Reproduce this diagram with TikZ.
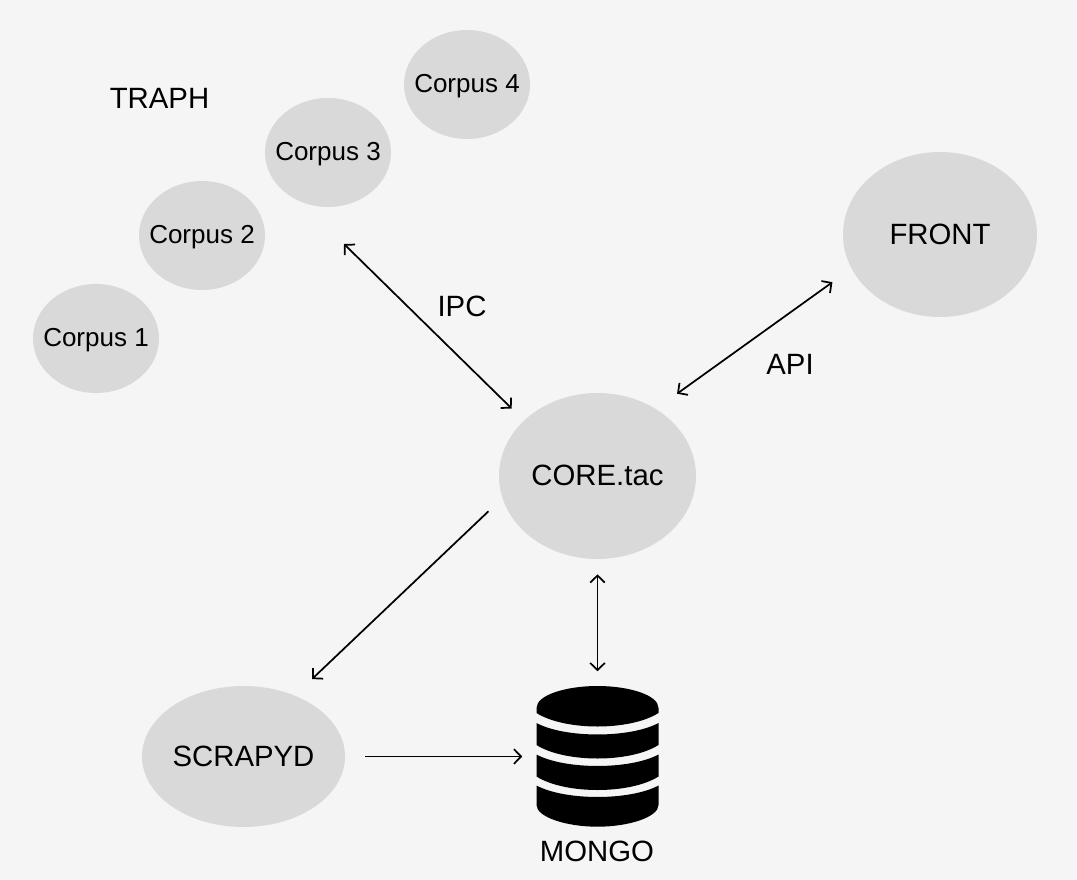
\documentclass[tikz,border=0pt]{standalone}
\usepackage{xcolor}
\usepackage{fontspec}
\setmainfont{Liberation Sans}
\usetikzlibrary{arrows.meta,shapes.geometric}
\definecolor{page}{HTML}{F5F5F5}
\definecolor{blob}{HTML}{D9D9D9}
\newcommand{\bigfont}{\fontsize{22}{26}\selectfont}
\newcommand{\smallfont}{\fontsize{19.5}{23}\selectfont}
\tikzset{
  service/.style={ellipse,fill=blob,inner sep=0pt,outer sep=0pt},
  corpus/.style={service,minimum width=94.5pt,minimum height=81.75pt},
  tag/.style={inner sep=0pt,font=\bigfont},
  small tag/.style={inner sep=0pt,font=\smallfont,text depth=0pt},
  link/.style={line width=1.3pt,{Straight Barb[length=5.3pt,width=11pt]}-{Straight Barb[length=5.3pt,width=11pt]}},
  oneway/.style={line width=1.3pt,-{Straight Barb[length=5.3pt,width=11pt]}},
}
\begin{document}
\begin{tikzpicture}[x=0.75pt,y=-0.75pt]
  \fill[page] (0,0) rectangle (1077,880);
  \useasboundingbox (0,0) rectangle (1077,880);

  \node[corpus,label={[small tag,yshift=0.5pt]center:Corpus 1}] (corpus1) at (96,338.5) {};
  \node[corpus,label={[small tag,yshift=0.5pt]center:Corpus 2}] (corpus2) at (202,235.5) {};
  \node[corpus,label={[small tag,yshift=0.5pt]center:Corpus 3}] (corpus3) at (328,152.5) {};
  \node[corpus,label={[small tag,yshift=0.5pt]center:Corpus 4}] (corpus4) at (467,84.5) {};
  \node[tag] (traph) at (159.5,98.5) {TRAPH};
  \node[service,minimum width=145.5pt,minimum height=123.75pt,label={[tag]center:FRONT}] (front) at (940,234.5) {};
  \node[service,minimum width=147.75pt,minimum height=124.5pt,label={[tag,yshift=0.5pt]center:CORE.tac}] (core) at (597.5,476) {};
  \node[service,minimum width=152.25pt,minimum height=105.75pt,label={[tag]center:SCRAPYD}] (scrapyd) at (243.5,756.5) {};
  \node[inner sep=0pt,minimum width=91.5pt,minimum height=106.5pt] (mongo) at (597.5,756.5) {};
  \node[tag] (mongolabel) at (597,851.5) {MONGO};
  \node[tag] (ipc) at (462,306.5) {IPC};
  \node[tag] (api) at (790,364.5) {API};
  \coordinate (traphend) at (344,244);

  % database icon
  \fill (536.5,713) -- (536.5,708) .. controls (536.5,695) and (566,686) .. (597.5,686)
    .. controls (629,686) and (658.5,695) .. (658.5,708) -- (658.5,713)
    .. controls (630,731) and (565,731) .. (536.5,713) -- cycle;
  \foreach \y in {723,754.5}
    \fill (536.5,\y) .. controls (565,\y+15.3) and (630,\y+15.3) .. (658.5,\y) -- (658.5,\y+22)
      .. controls (630,\y+40) and (565,\y+40) .. (536.5,\y+22) -- cycle;
  \fill (536.5,785.5) .. controls (565,800.8) and (630,800.8) .. (658.5,785.5) -- (658.5,805)
    .. controls (658.5,817) and (629,826.7) .. (597.5,826.7)
    .. controls (566,826.7) and (536.5,817) .. (536.5,805) -- cycle;

  \draw[link,shorten <=13pt] (core.143.4) -- (traphend);
  \draw[link,shorten <=19.7pt,shorten >=17.7pt] (core.49.1) -- (front.201.9);
  \draw[oneway,shorten <=14.5pt,shorten >=18pt] (core.193) -- (scrapyd.50.7);
  \draw[link,shorten <=11.5pt,shorten >=10.5pt] (core.south) -- (mongo.north);
  \draw[oneway,shorten <=15pt,shorten >=10.5pt] (scrapyd.east) -- (mongo.west);
\end{tikzpicture}
\end{document}
